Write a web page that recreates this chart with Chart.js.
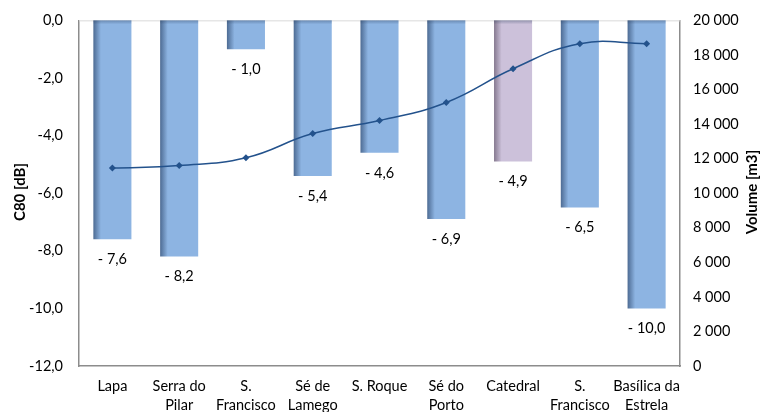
<!DOCTYPE html>
<html>
<head>
<meta charset="utf-8">
<script src="https://cdn.jsdelivr.net/npm/chart.js@4/dist/chart.umd.min.js"></script>
<style>
  html, body { margin: 0; padding: 0; background: #ffffff; }
  #wrap { width: 761px; height: 412px; }
</style>
</head>
<body>
<div id="wrap"><canvas id="c" width="761" height="412"></canvas></div>
<script>
// Church names (multi-line labels)
const categories = [
  'Lapa',
  ['Serra do', 'Pilar'],
  ['S.', 'Francisco'],
  ['Sé de', 'Lamego'],
  'S. Roque',
  ['Sé do', 'Porto'],
  'Catedral',
  ['S.', 'Francisco'],
  ['Basílica da', 'Estrela']
];
// Clarity C80 in dB (bars, left axis)
const c80 = [-7.6, -8.2, -1.0, -5.4, -4.6, -6.9, -4.9, -6.5, -10.0];
// Room volume in m3 (line, right axis)
const volume = [11450, 11600, 12050, 13450, 14200, 15250, 17200, 18650, 18650];
// Axis tick values
const c80Ticks = [0, -2, -4, -6, -8, -10, -12];
const volumeTicks = [0, 2000, 4000, 6000, 8000, 10000, 12000, 14000, 16000, 18000, 20000];

const FONT = 'Lato, "Liberation Sans", sans-serif';
const FS = 14.5;
const barLight = ['#8db4e2', '#8db4e2', '#8db4e2', '#8db4e2', '#8db4e2', '#8db4e2', '#ccc1da', '#8db4e2', '#8db4e2'];
const barDark  = ['#4d6b93', '#4d6b93', '#4d6b93', '#4d6b93', '#4d6b93', '#4d6b93', '#85798f', '#4d6b93', '#4d6b93'];

const fmtDec = v => (v < 0 ? '-' : '') + Math.abs(v).toFixed(1).replace('.', ',');
const fmtThousands = v => String(Math.round(v)).replace(/\B(?=(\d{3})+(?!\d))/g, ' ');

// Shaded left edge on every bar
const barShade = {
  id: 'barShade',
  beforeDatasetsDraw(chart) {
    const meta = chart.getDatasetMeta(0);
    const ctx = chart.ctx;
    meta.data.forEach((el, i) => {
      const left = el.x - el.width / 2, right = el.x + el.width / 2;
      const g = ctx.createLinearGradient(left, 0, right, 0);
      g.addColorStop(0, barDark[i]);
      g.addColorStop(0.2, barLight[i]);
      g.addColorStop(1, barLight[i]);
      el.options.backgroundColor = g;
    });
  },
  afterDatasetDraw(chart, args) {
    if (args.index !== 0) return;
    const ctx = chart.ctx;
    const meta = chart.getDatasetMeta(0);
    ctx.save();
    meta.data.forEach((el) => {
      const left = el.x - el.width / 2;
      const top = Math.min(el.y, el.base);
      const g = ctx.createLinearGradient(0, top, 0, top + 4);
      g.addColorStop(0, 'rgba(40,60,90,0.35)');
      g.addColorStop(1, 'rgba(40,60,90,0)');
      ctx.fillStyle = g;
      ctx.fillRect(left, top, el.width, 4);
    });
    ctx.restore();
  }
};

// Value labels below bars, plot frame and axis titles
const decorations = {
  id: 'decorations',
  beforeDatasetsDraw(chart) {
    const { ctx, chartArea: a } = chart;
    ctx.save();
    ctx.strokeStyle = '#d9d9d9';
    ctx.lineWidth = 1;
    ctx.beginPath();
    ctx.moveTo(a.left, a.top + 0.5);
    ctx.lineTo(a.right, a.top + 0.5);
    ctx.stroke();
    ctx.restore();
  },
  afterDatasetsDraw(chart) {
    const { ctx } = chart;
    const meta = chart.getDatasetMeta(0);
    ctx.save();
    ctx.font = FS + 'px ' + FONT;
    ctx.fillStyle = '#000000';
    ctx.textAlign = 'center';
    ctx.textBaseline = 'middle';
    meta.data.forEach((el, i) => {
      const v = c80[i];
      const txt = '- ' + Math.abs(v).toFixed(1).replace('.', ',');
      ctx.fillText(txt, el.x, el.y + 20);
    });
    // axis titles
    ctx.font = 'bold 15px ' + FONT;
    const midY = 192;
    ctx.translate(20, midY);
    ctx.rotate(-Math.PI / 2);
    ctx.fillText('C80 [dB]', 0, 0);
    ctx.restore();
    ctx.save();
    ctx.font = 'bold 15px ' + FONT;
    ctx.fillStyle = '#000000';
    ctx.textAlign = 'center';
    ctx.textBaseline = 'middle';
    ctx.translate(752, midY);
    ctx.rotate(-Math.PI / 2);
    ctx.fillText('Volume [m3]', 0, 0);
    ctx.restore();
  }
};

new Chart(document.getElementById('c'), {
  data: {
    labels: categories,
    datasets: [
      {
        type: 'bar',
        label: 'C80',
        data: c80,
        yAxisID: 'y',
        backgroundColor: barLight,
        borderWidth: 0,
        barPercentage: 0.57,
        categoryPercentage: 1.0,
        order: 2
      },
      {
        type: 'line',
        label: 'Volume',
        data: volume,
        yAxisID: 'y1',
        borderColor: '#23528c',
        backgroundColor: '#23528c',
        borderWidth: 1.5,
        tension: 0.45,
        pointStyle: 'rectRot',
        pointRadius: 3.5,
        pointBorderWidth: 0,
        fill: false,
        order: 1
      }
    ]
  },
  options: {
    responsive: false,
    animation: false,
    layout: { padding: { top: 20, left: 0, right: 0, bottom: 0 } },
    plugins: {
      legend: { display: false },
      tooltip: { enabled: false }
    },
    scales: {
      x: {
        grid: { display: false, drawTicks: false },
        border: { display: true, color: '#8c8c8c', width: 1.5 },
        ticks: {
          color: '#000000',
          font: { family: FONT, size: FS, lineHeight: 1.3 },
          padding: 11,
          maxRotation: 0,
          autoSkip: false
        },
        afterFit(s) { s.height = 46; }
      },
      y: {
        position: 'left',
        min: -12, max: 0,
        afterBuildTicks(s) { s.ticks = c80Ticks.map(v => ({ value: v })); },
        grid: { display: false, drawTicks: false },
        border: { display: true, color: '#8c8c8c', width: 1.5 },
        ticks: {
          color: '#000000',
          font: { family: FONT, size: FS, lineHeight: 0.6 },
          padding: 16,
          callback: v => fmtDec(v)
        },
        afterFit(s) { s.width = 79; }
      },
      y1: {
        position: 'right',
        min: 0, max: 20000,
        afterBuildTicks(s) { s.ticks = volumeTicks.map(v => ({ value: v })); },
        grid: { display: false, drawOnChartArea: false, drawTicks: true, tickLength: 5, color: '#8c8c8c' },
        border: { display: true, color: '#8c8c8c', width: 1.5 },
        ticks: {
          color: '#000000',
          font: { family: FONT, size: FS, lineHeight: 0.6 },
          padding: 8,
          callback: v => fmtThousands(v)
        },
        afterFit(s) { s.width = 81; }
      }
    }
  },
  plugins: [barShade, decorations]
});
</script>
</body>
</html>
